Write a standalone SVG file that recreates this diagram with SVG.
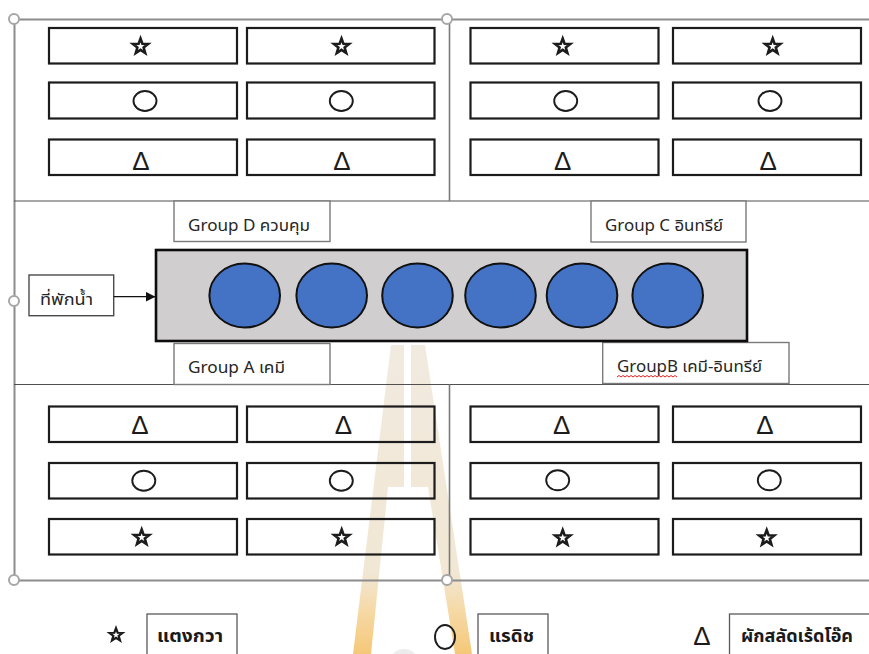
<svg xmlns="http://www.w3.org/2000/svg" width="869" height="654" viewBox="0 0 869 654">
  <defs>
    <style>
      .frame { stroke: #8c8c8c; stroke-width: 2; fill: none; }
      .rule { stroke: #505050; stroke-width: 1.2; fill: none; }
      .divider { stroke: #7a7a7a; stroke-width: 1.6; fill: none; }
      .handle { fill: #ffffff; stroke: #a6a6a6; stroke-width: 2; }
      .cell { fill: none; stroke: #1c1c1c; stroke-width: 2.2; }
      .tag { fill: #ffffff; stroke: #7a7a7a; stroke-width: 1.4; }
      .legbox { fill: none; stroke: #5a5a5a; stroke-width: 1.3; }
      .ring { fill: none; stroke: #1c1c1c; stroke-width: 1.9; }
      .tri { font-family: "Liberation Sans", Arial, sans-serif; font-size: 26px; fill: #1c1c1c; text-anchor: middle; }
      .lbl { font-family: "Noto Sans", "Noto Sans Thai", "Open Sans", sans-serif; font-size: 16px; fill: #262626; }
      .leg { font-family: "Noto Sans", "Noto Sans Thai", sans-serif; font-size: 17px; font-weight: bold; fill: #1a1a1a; }
      .pot { fill: #4472c4; stroke: #111111; stroke-width: 2; }
    </style>
    <polygon id="star" points="0,-8 1.94,-2.67 7.61,-2.47 3.14,1.02 4.7,6.47 0,3.3 -4.7,6.47 -3.14,1.02 -7.61,-2.47 -1.94,-2.67" fill="#ffffff" stroke="#1c1c1c" stroke-width="2.6" stroke-linejoin="miter" stroke-miterlimit="6"/>
    <linearGradient id="wmFill" gradientUnits="userSpaceOnUse" x1="0" y1="345" x2="0" y2="654">
      <stop offset="0" stop-color="#f1eadf"/>
      <stop offset="0.74" stop-color="#f1e7d4"/>
      <stop offset="0.86" stop-color="#f6d9a6"/>
      <stop offset="1" stop-color="#f5c878"/>
    </linearGradient>
    <marker id="arrow" viewBox="0 0 10 10" refX="10" refY="5" markerWidth="10" markerHeight="10" markerUnits="userSpaceOnUse" orient="auto">
      <path d="M0,0 L10,5 L0,10 Z" fill="#111111"/>
    </marker>
  </defs>

  <rect x="0" y="0" width="869" height="654" fill="#ffffff"/>

  <!-- faint watermark emblem behind the lower half -->
  <g id="watermark">
    <polygon points="391,345 404,345 404,487 388,487 371,654 353,654" fill="url(#wmFill)"/>
    <polygon points="411,345 425,345 472,654 455,654 428,487 411,487" fill="url(#wmFill)"/>
    <circle cx="404" cy="664" r="15" fill="#ececec"/>
  </g>

  <!-- outer frame and quadrant rules -->
  <g id="frame">
    <path class="frame" d="M14,19.5 H869 M14.5,19 V580 M14,580.5 H869"/>
    <path class="rule" d="M14,201 H869 M14,384.5 H869"/>
    <path class="divider" d="M449.5,19 V201 M449.5,384.5 V580"/>
    <circle class="handle" cx="14" cy="19" r="5"/>
    <circle class="handle" cx="447" cy="19" r="5"/>
    <circle class="handle" cx="14" cy="301" r="5"/>
    <circle class="handle" cx="14" cy="580" r="5"/>
    <circle class="handle" cx="447" cy="580" r="5"/>
  </g>

  <!-- Group D plots (top left) -->
  <g id="plots-d">
    <rect class="cell" x="49" y="28" width="188" height="35.5"/>
    <rect class="cell" x="247" y="28" width="187.5" height="35.5"/>
    <rect class="cell" x="49" y="82.5" width="188" height="36"/>
    <rect class="cell" x="247" y="82.5" width="187.5" height="36"/>
    <rect class="cell" x="49" y="139.5" width="188" height="35.5"/>
    <rect class="cell" x="247" y="139.5" width="187.5" height="35.5"/>
    <use href="#star" x="140.5" y="46.5"/>
    <use href="#star" x="341.5" y="46.5"/>
    <ellipse class="ring" cx="145" cy="101" rx="11.5" ry="10"/>
    <ellipse class="ring" cx="341.3" cy="101" rx="11.5" ry="10"/>
    <text class="tri" x="141" y="170">Δ</text>
    <text class="tri" x="342" y="170">Δ</text>
  </g>

  <!-- Group C plots (top right) -->
  <g id="plots-c">
    <rect class="cell" x="470.5" y="28" width="188" height="35.5"/>
    <rect class="cell" x="673" y="28" width="188" height="35.5"/>
    <rect class="cell" x="470.5" y="82.5" width="188" height="36"/>
    <rect class="cell" x="673" y="82.5" width="188" height="36"/>
    <rect class="cell" x="470.5" y="139.5" width="188" height="35.5"/>
    <rect class="cell" x="673" y="139.5" width="188" height="35.5"/>
    <use href="#star" x="562.7" y="46.5"/>
    <use href="#star" x="772.7" y="46.5"/>
    <ellipse class="ring" cx="565.7" cy="101" rx="11.5" ry="10"/>
    <ellipse class="ring" cx="770" cy="101" rx="11.5" ry="10"/>
    <text class="tri" x="562.7" y="170">Δ</text>
    <text class="tri" x="768.3" y="170">Δ</text>
  </g>

  <!-- Group A plots (bottom left) -->
  <g id="plots-a">
    <rect class="cell" x="49" y="406.5" width="188" height="35.5"/>
    <rect class="cell" x="247" y="406.5" width="187.5" height="35.5"/>
    <rect class="cell" x="49" y="463" width="188" height="35.5"/>
    <rect class="cell" x="247" y="463" width="187.5" height="35.5"/>
    <rect class="cell" x="49" y="519" width="188" height="35.5"/>
    <rect class="cell" x="247" y="519" width="187.5" height="35.5"/>
    <text class="tri" x="140" y="433.5">Δ</text>
    <text class="tri" x="343.5" y="433.5">Δ</text>
    <ellipse class="ring" cx="143.8" cy="480.7" rx="11.5" ry="10"/>
    <ellipse class="ring" cx="341.3" cy="480.7" rx="11.5" ry="10"/>
    <use href="#star" x="141.7" y="537.5"/>
    <use href="#star" x="341.7" y="537.5"/>
  </g>

  <!-- Group B plots (bottom right) -->
  <g id="plots-b">
    <rect class="cell" x="470.5" y="406.5" width="188" height="35.5"/>
    <rect class="cell" x="673" y="406.5" width="188" height="35.5"/>
    <rect class="cell" x="470.5" y="463" width="188" height="35.5"/>
    <rect class="cell" x="673" y="463" width="188" height="35.5"/>
    <rect class="cell" x="470.5" y="519" width="188" height="35.5"/>
    <rect class="cell" x="673" y="519" width="188" height="35.5"/>
    <text class="tri" x="561.8" y="433.5">Δ</text>
    <text class="tri" x="765" y="433.5">Δ</text>
    <ellipse class="ring" cx="557.7" cy="480.3" rx="11.5" ry="10"/>
    <ellipse class="ring" cx="769.3" cy="480.3" rx="11.5" ry="10"/>
    <use href="#star" x="562.7" y="538"/>
    <use href="#star" x="766.7" y="538"/>
  </g>

  <!-- group name tags -->
  <g id="tag-d">
    <rect class="tag" x="174" y="201" width="156" height="40.5"/>
    <text class="lbl" x="188" y="231" textLength="122" lengthAdjust="spacingAndGlyphs">Group D ควบคุม</text>
  </g>
  <g id="tag-c">
    <rect class="tag" x="591" y="201" width="155" height="41"/>
    <text class="lbl" x="605" y="231" textLength="118" lengthAdjust="spacingAndGlyphs">Group C อินทรีย์</text>
  </g>
  <g id="tag-a">
    <rect class="tag" x="174" y="343.5" width="156" height="41"/>
    <text class="lbl" x="188" y="373" textLength="97" lengthAdjust="spacingAndGlyphs">Group A เคมี</text>
  </g>
  <g id="tag-b">
    <rect class="tag" x="602.7" y="342.5" width="186.3" height="41"/>
    <text class="lbl" x="617" y="372" textLength="145" lengthAdjust="spacingAndGlyphs">GroupB เคมี-อินทรีย์</text>
    <polyline points="617,377 619,375.5 621,377 623,375.5 625,377 627,375.5 629,377 631,375.5 633,377 635,375.5 637,377 639,375.5 641,377 643,375.5 645,377 647,375.5 649,377 651,375.5 653,377 655,375.5 657,377 659,375.5 661,377 663,375.5 665,377 667,375.5 669,377 671,375.5 673,377 675,375.5 677,377" fill="none" stroke="#e02020" stroke-width="1"/>
  </g>

  <!-- water tank -->
  <g id="tank">
    <rect x="29" y="275" width="84.7" height="40.7" fill="#ffffff" stroke="#4a4a4a" stroke-width="1.4"/>
    <text class="lbl" x="40" y="305" font-size="17" textLength="53" lengthAdjust="spacingAndGlyphs">ที่พักน้ำ</text>
  </g>

  <!-- grow bed with six pots -->
  <g id="bed">
    <rect x="156" y="250" width="591" height="91" fill="#d0cece" stroke="#0d0d0d" stroke-width="2.6"/>
    <ellipse class="pot" cx="244.7" cy="295.5" rx="35.3" ry="32"/>
    <ellipse class="pot" cx="331.7" cy="295.5" rx="35.3" ry="32"/>
    <ellipse class="pot" cx="417.5" cy="295.5" rx="35.3" ry="32"/>
    <ellipse class="pot" cx="500.5" cy="295.5" rx="35.3" ry="32"/>
    <ellipse class="pot" cx="582" cy="295.5" rx="35.3" ry="32"/>
    <ellipse class="pot" cx="667.7" cy="295.5" rx="35.3" ry="32"/>
  </g>

  <!-- connectors -->
  <g id="connectors">
    <line x1="113.7" y1="296.7" x2="155.5" y2="296.7" stroke="#111111" stroke-width="1.3" marker-end="url(#arrow)"/>
  </g>

  <!-- legend -->
  <g id="legend-cucumber">
    <use href="#star" transform="translate(116,635) scale(0.85)"/>
    <rect class="legbox" x="147" y="614" width="90" height="45"/>
    <text class="leg" x="157" y="642" textLength="66" lengthAdjust="spacingAndGlyphs">แตงกวา</text>
  </g>
  <g id="legend-radish">
    <ellipse class="ring" cx="445" cy="637" rx="10" ry="12"/>
    <rect class="legbox" x="478" y="614" width="70" height="45"/>
    <text class="leg" x="489" y="642" textLength="45" lengthAdjust="spacingAndGlyphs">แรดิช</text>
  </g>
  <g id="legend-redoak">
    <text class="tri" x="702" y="645" font-size="22">Δ</text>
    <rect class="legbox" x="729.5" y="614" width="145" height="45"/>
    <text class="leg" x="741" y="642" textLength="112" lengthAdjust="spacingAndGlyphs">ผักสลัดเร้ดโอ๊ค</text>
  </g>
</svg>
